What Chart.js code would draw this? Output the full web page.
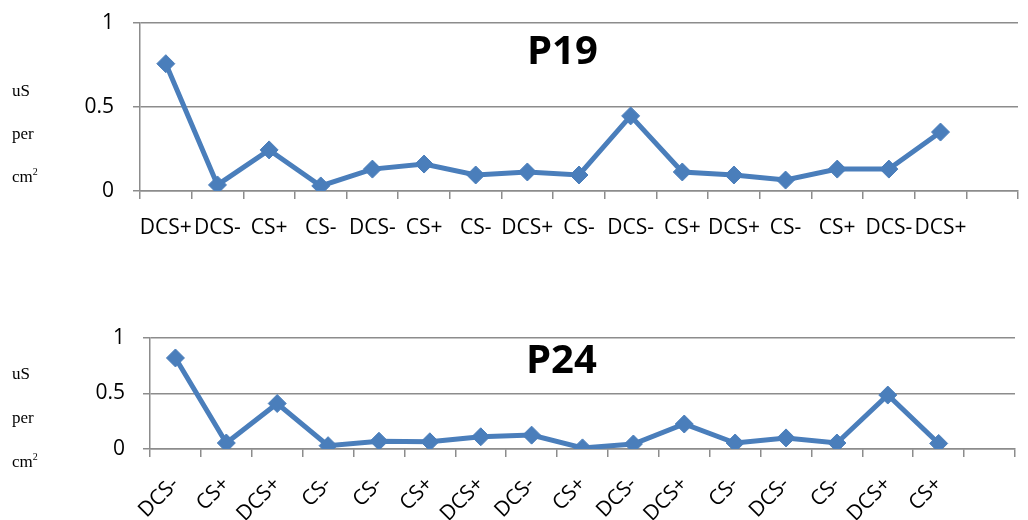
<!DOCTYPE html>
<html>
<head>
<meta charset="utf-8">
<script src="https://cdn.jsdelivr.net/npm/chart.js@4.4.1/dist/chart.umd.min.js"></script>
<style>
    body { margin: 0; background: #fff; }
    .wrap { position: relative; width: 1028px; height: 520px; overflow: hidden; }
    .box { position: absolute; left: 0; width: 1028px; }
    .unit { position: absolute; left: 12px; font-family: "Liberation Serif", serif; font-size: 17px; color: #000; line-height: 1; }
    .unit sup { font-size: 10px; vertical-align: 7px; }
    .ttl { position: absolute; font-family: "Open Sans", sans-serif; font-weight: 700; font-size: 40px; color: #000; line-height: 1; }
</style>
</head>
<body>
<div class="wrap">
    <div class="box" style="top:-9px;height:279px"><canvas id="chartP19"></canvas></div>
    <div class="box" style="top:290px;height:230px"><canvas id="chartP24"></canvas></div>

    <div class="unit" style="top:82px">uS</div>
    <div class="unit" style="top:125px">per</div>
    <div class="unit" style="top:167px">cm<sup>2</sup></div>
    <div class="unit" style="top:365px">uS</div>
    <div class="unit" style="top:409px">per</div>
    <div class="unit" style="top:452px">cm<sup>2</sup></div>

    <div class="ttl" style="left:527px;top:29px">P19</div>
    <div class="ttl" style="left:526px;top:338px">P24</div>
</div>
<script>
// -------------------------
// Data
// -------------------------
const labelsP19 = ['DCS+', 'DCS-', 'CS+', 'CS-', 'DCS-', 'CS+', 'CS-', 'DCS+', 'CS-', 'DCS-', 'CS+', 'DCS+', 'CS-', 'CS+', 'DCS-', 'DCS+', ''];
const valuesP19 = [0.756, 0.036, 0.244, 0.03, 0.13, 0.16, 0.095, 0.113, 0.095, 0.446, 0.113, 0.095, 0.065, 0.13, 0.13, 0.35, null];

const labelsP24 = ['DCS-', 'CS+', 'DCS+', 'CS-', 'CS-', 'CS+', 'DCS+', 'DCS-', 'CS+', 'DCS-', 'DCS+', 'CS-', 'DCS-', 'CS-', 'DCS+', 'CS+', ''];
const valuesP24 = [0.82, 0.054, 0.41, 0.03, 0.07, 0.065, 0.11, 0.125, 0.01, 0.045, 0.225, 0.054, 0.1, 0.054, 0.486, 0.05, null];

const yTicks = [0, 0.5, 1];

const lineBlue = '#4a7ebb';
const gridGray = '#8c8c8c';

// -------------------------
// Chart builder
// -------------------------
function makeChart(id, labels, values, opts) {
    const ctx = document.getElementById(id).getContext('2d');
    return new Chart(ctx, {
        type: 'line',
        data: {
            labels: labels,
            datasets: [{
                data: values,
                borderColor: lineBlue,
                backgroundColor: lineBlue,
                borderWidth: 5,
                pointStyle: 'rectRot',
                pointRadius: 9,
                pointHoverRadius: 9,
                pointBorderWidth: 1,
                tension: 0,
                fill: false
            }]
        },
        options: {
            responsive: true,
            maintainAspectRatio: false,
            animation: false,
            layout: {
                padding: { top: opts.top, right: opts.right, left: 0, bottom: 0 }
            },
            plugins: {
                legend: { display: false },
                tooltip: { enabled: false }
            },
            scales: {
                y: {
                    min: 0,
                    max: 1,
                    afterFit: s => { s.width = opts.yWidth; },
                    afterBuildTicks: s => { s.ticks = yTicks.map(v => ({ value: v })); },
                    grid: {
                        color: gridGray,
                        lineWidth: 1.5,
                        tickLength: 7
                    },
                    border: { color: gridGray, width: 1.5 },
                    ticks: {
                        padding: opts.yPad,
                        color: '#000',
                        font: { family: 'Open Sans', size: 21 },
                        callback: v => String(v)
                    }
                },
                x: {
                    offset: true,
                    afterFit: s => { s.height = opts.xHeight; },
                    grid: {
                        offset: true,
                        drawOnChartArea: false,
                        color: gridGray,
                        lineWidth: 1.5,
                        tickLength: 8
                    },
                    border: { color: gridGray, width: 1.5 },
                    ticks: {
                        autoSkip: false,
                        minRotation: opts.rot,
                        maxRotation: opts.rot,
                        padding: opts.xPad,
                        color: '#000',
                        font: { family: 'Open Sans', size: opts.xFont }
                    }
                }
            }
        }
    });
}

makeChart('chartP19', labelsP19, valuesP19, {
    top: 23, right: 6, yWidth: 140, xHeight: 79, yPad: 19, xPad: 16, rot: 0, xFont: 21
});

makeChart('chartP24', labelsP24, valuesP24, {
    top: 48, right: 13, yWidth: 150, xHeight: 71, yPad: 18, xPad: 15, rot: 45, xFont: 21
});
</script>
</body>
</html>
